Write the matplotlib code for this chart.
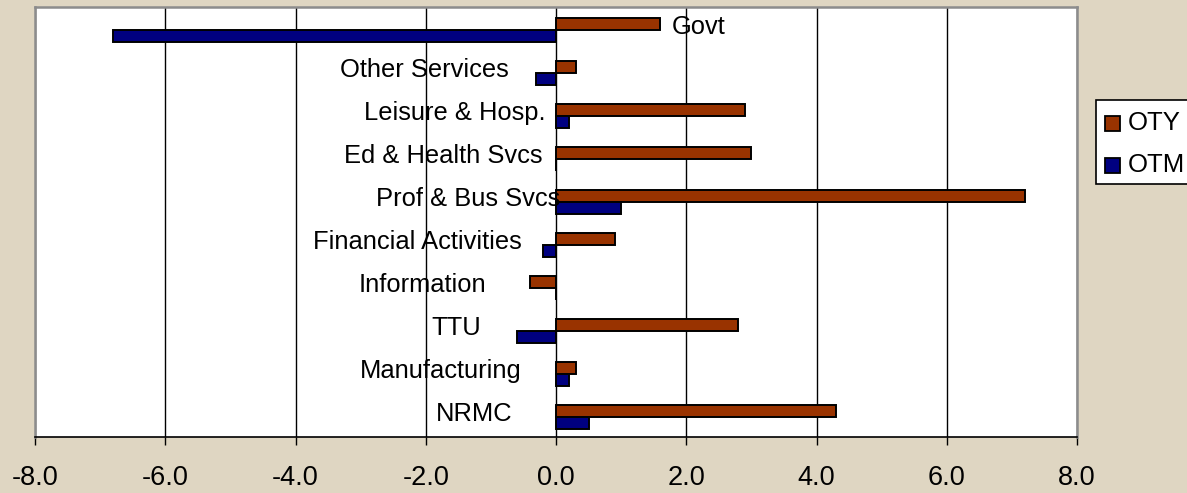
import matplotlib
matplotlib.use("Agg")
import matplotlib.pyplot as plt
from matplotlib.patches import Rectangle
import numpy as np

plt.rcParams['font.family'] = ['Liberation Sans', 'DejaVu Sans']

categories = ["Govt", "Other Services", "Leisure & Hosp.", "Ed & Health Svcs",
              "Prof & Bus Svcs", "Financial Activities", "Information", "TTU",
              "Manufacturing", "NRMC"]
oty = [1.6, 0.3, 2.9, 3.0, 7.2, 0.9, -0.4, 2.8, 0.3, 4.3]
otm = [-6.8, -0.3, 0.2, 0.0, 1.0, -0.2, 0.0, -0.6, 0.2, 0.5]
xticks = [-8.0, -6.0, -4.0, -2.0, 0.0, 2.0, 4.0, 6.0, 8.0]
# label anchor (right edge, data units) for each category label
label_right = [2.61, -0.73, -0.16, -0.21, 0.07, -0.52, -1.07, -1.15, -0.53, -0.67]

W, H = 1187, 493
fig = plt.figure(figsize=(W / 100, H / 100), dpi=100)
fig.patch.set_facecolor('#DFD6C2')

ax = fig.add_axes([35 / W, 1 - 437 / H, (1077 - 35) / W, (437 - 7) / H])
ax.set_facecolor('white')

n = len(categories)
y = np.arange(n)
bh = 0.28
off = 0.035
c_oty = '#993300'
c_otm = '#000080'
ax.barh(y - bh / 2 + off, oty, height=bh, color=c_oty, edgecolor='black', linewidth=1.4, zorder=3)
ax.barh(y + bh / 2 + off, otm, height=bh, color=c_otm, edgecolor='black', linewidth=1.4, zorder=3)

ax.set_xlim(-8, 8)
ax.set_ylim(n - 0.5, -0.5)
ax.set_xticks(xticks)
ax.set_xticklabels([f"{v:.1f}" for v in xticks], fontsize=19.5)
ax.set_yticks([])
ax.grid(axis='x', color='black', linewidth=1.0, zorder=1)
ax.tick_params(axis='x', direction='out', length=6, width=1, pad=14, color='black')

for s in ['left', 'top', 'right']:
    ax.spines[s].set_color('#8C8C8C')
    ax.spines[s].set_linewidth(1.8)
ax.spines['bottom'].set_color('black')
ax.spines['bottom'].set_linewidth(1.2)

for i, (cat, xr) in enumerate(zip(categories, label_right)):
    ax.text(xr, i + 0.125, cat, ha='right', va='baseline', fontsize=18.4, zorder=4)

# legend
fig.patches.append(Rectangle((1095.5 / W, 1 - 184 / H), 100 / W, 83.5 / H, transform=fig.transFigure,
                             facecolor='white', edgecolor='black', linewidth=1.2, zorder=5))
for ytop, base, col, lab in [(116, 130, c_oty, 'OTY'), (158, 172, c_otm, 'OTM')]:
    fig.patches.append(Rectangle((1105 / W, 1 - (ytop + 14.5) / H), 14.5 / W, 14.5 / H, transform=fig.transFigure,
                                 facecolor=col, edgecolor='black', linewidth=1.3, zorder=6))
    fig.text(1128 / W, 1 - base / H, lab, fontsize=18.5, va='baseline', ha='left', zorder=7)

fig.savefig('out.png', dpi=100, facecolor=fig.get_facecolor())
